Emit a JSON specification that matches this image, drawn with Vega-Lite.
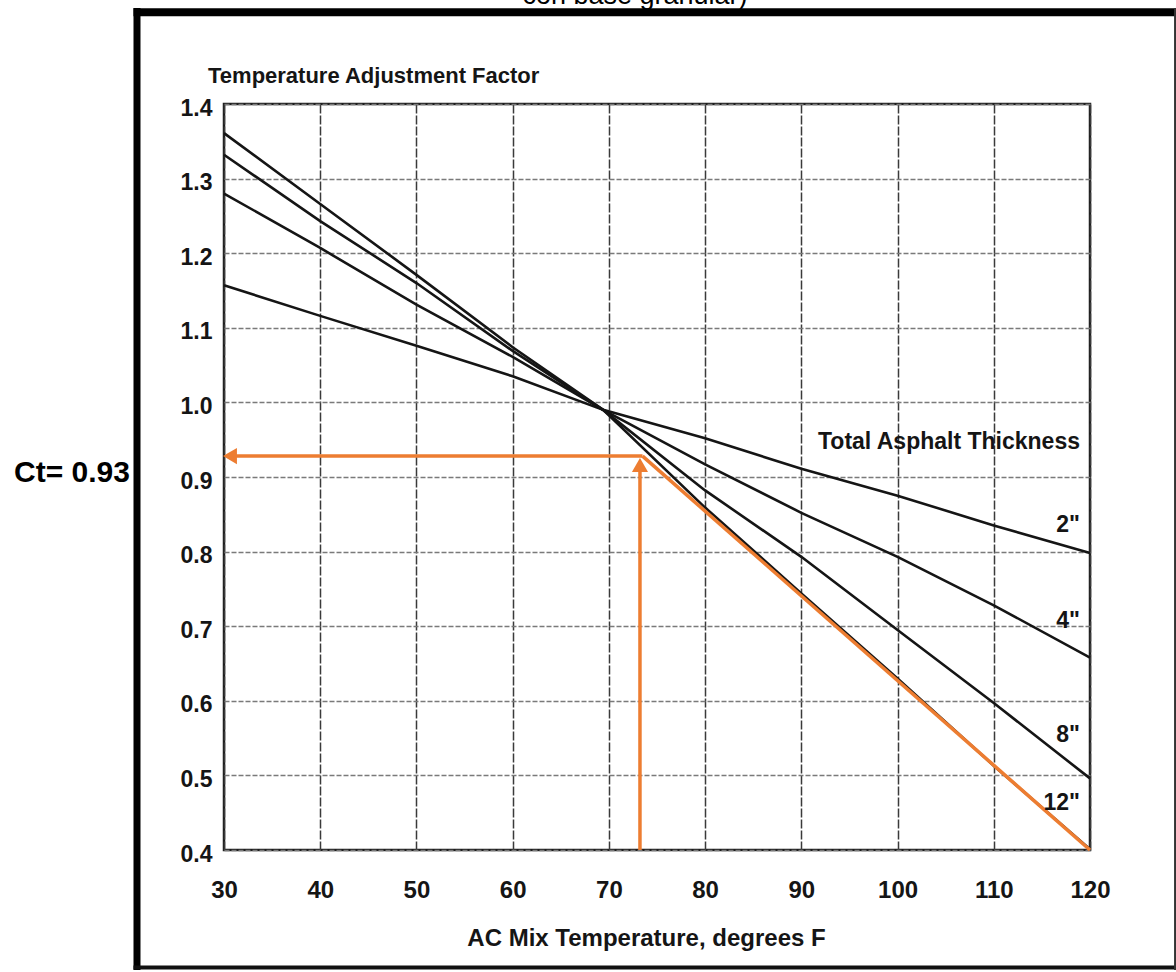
{
  "$schema": "https://vega.github.io/schema/vega-lite/v6.json",
  "width": 866,
  "height": 746,
  "autosize": {"type": "none"},
  "padding": {"left": 224, "top": 104, "right": 86, "bottom": 122},
  "background": "white",
  "config": {
    "view": {"stroke": "#1e1e1e", "strokeWidth": 2.5},
    "font": "Liberation Sans"
  },
  "datasets": {
    "curves": [
      {"thickness": "2in", "temp": 30, "factor": 1.157},
      {"thickness": "2in", "temp": 40, "factor": 1.116},
      {"thickness": "2in", "temp": 50, "factor": 1.076},
      {"thickness": "2in", "temp": 60, "factor": 1.035},
      {"thickness": "2in", "temp": 69.4, "factor": 0.99},
      {"thickness": "2in", "temp": 80, "factor": 0.952},
      {"thickness": "2in", "temp": 90, "factor": 0.911},
      {"thickness": "2in", "temp": 100, "factor": 0.875},
      {"thickness": "2in", "temp": 110, "factor": 0.835},
      {"thickness": "2in", "temp": 120, "factor": 0.798},
      {"thickness": "4in", "temp": 30, "factor": 1.28},
      {"thickness": "4in", "temp": 40, "factor": 1.207},
      {"thickness": "4in", "temp": 50, "factor": 1.131},
      {"thickness": "4in", "temp": 60, "factor": 1.061},
      {"thickness": "4in", "temp": 69.4, "factor": 0.99},
      {"thickness": "4in", "temp": 80, "factor": 0.917},
      {"thickness": "4in", "temp": 90, "factor": 0.852},
      {"thickness": "4in", "temp": 100, "factor": 0.793},
      {"thickness": "4in", "temp": 110, "factor": 0.728},
      {"thickness": "4in", "temp": 120, "factor": 0.658},
      {"thickness": "8in", "temp": 30, "factor": 1.332},
      {"thickness": "8in", "temp": 40, "factor": 1.243},
      {"thickness": "8in", "temp": 50, "factor": 1.16},
      {"thickness": "8in", "temp": 60, "factor": 1.069},
      {"thickness": "8in", "temp": 69.4, "factor": 0.99},
      {"thickness": "8in", "temp": 80, "factor": 0.882},
      {"thickness": "8in", "temp": 90, "factor": 0.793},
      {"thickness": "8in", "temp": 100, "factor": 0.695},
      {"thickness": "8in", "temp": 110, "factor": 0.597},
      {"thickness": "8in", "temp": 120, "factor": 0.496},
      {"thickness": "12in", "temp": 30, "factor": 1.361},
      {"thickness": "12in", "temp": 40, "factor": 1.266},
      {"thickness": "12in", "temp": 50, "factor": 1.171},
      {"thickness": "12in", "temp": 60, "factor": 1.074},
      {"thickness": "12in", "temp": 69.4, "factor": 0.99},
      {"thickness": "12in", "temp": 80, "factor": 0.859},
      {"thickness": "12in", "temp": 90, "factor": 0.744},
      {"thickness": "12in", "temp": 100, "factor": 0.63},
      {"thickness": "12in", "temp": 110, "factor": 0.513},
      {"thickness": "12in", "temp": 120, "factor": 0.401}
    ],
    "curveLabels": [
      {"label": "Total Asphalt Thickness", "temp": 118.96, "factor": 0.9375},
      {"label": "2\"", "temp": 118.96, "factor": 0.8263},
      {"label": "4\"", "temp": 118.96, "factor": 0.6976},
      {"label": "8\"", "temp": 118.96, "factor": 0.5448},
      {"label": "12\"", "temp": 118.96, "factor": 0.4536}
    ],
    "readingLine": [
      {"temp": 73.5, "factor": 0.928},
      {"temp": 120, "factor": 0.4}
    ]
  },
  "layer": [
    {
      "data": {"values": [{"x": 20.958, "y": 1.5287, "y2": 0.2391}]},
      "mark": {"type": "rule", "color": "#000000", "strokeWidth": 7},
      "encoding": {
        "x": {"field": "x", "type": "quantitative"},
        "y": {"field": "y", "type": "quantitative"},
        "y2": {"field": "y2"}
      }
    },
    {
      "data": {"values": [{"x": 20.594, "x2": 129.2, "y": 1.5231}]},
      "mark": {"type": "rule", "color": "#000000", "strokeWidth": 8},
      "encoding": {
        "x": {"field": "x", "type": "quantitative"},
        "x2": {"field": "x2"},
        "y": {"field": "y", "type": "quantitative"}
      }
    },
    {
      "data": {"values": [{"x": 20.594, "x2": 129.2, "y": 0.2425}]},
      "mark": {"type": "rule", "color": "#111111", "strokeWidth": 4},
      "encoding": {
        "x": {"field": "x", "type": "quantitative"},
        "x2": {"field": "x2"},
        "y": {"field": "y", "type": "quantitative"}
      }
    },
    {
      "data": {"values": [{"x": 128.84, "y": 1.5287, "y2": 0.2391}]},
      "mark": {"type": "rule", "color": "#333333", "strokeWidth": 2},
      "encoding": {
        "x": {"field": "x", "type": "quantitative"},
        "y": {"field": "y", "type": "quantitative"},
        "y2": {"field": "y2"}
      }
    },
    {
      "data": {"name": "curves"},
      "mark": {"type": "line", "color": "#151515", "strokeWidth": 2.6},
      "encoding": {
        "x": {
          "field": "temp",
          "type": "quantitative",
          "scale": {"domain": [30, 120], "nice": false, "zero": false},
          "axis": {
            "values": [30, 40, 50, 60, 70, 80, 90, 100, 110, 120],
            "domain": false,
            "ticks": false,
            "tickSize": 0,
            "labelFlush": false,
            "labelOverlap": false,
            "labelFont": "Liberation Sans",
            "labelFontWeight": "bold",
            "labelFontSize": 24,
            "labelColor": "#151515",
            "labelBaseline": "alphabetic",
            "labelPadding": 47,
            "grid": true,
            "gridColor": "#3a3a3a",
            "gridWidth": 1.5,
            "gridDash": [9, 2],
            "title": "AC Mix Temperature, degrees F",
            "titleFont": "Liberation Sans",
            "titleFontWeight": "bold",
            "titleFontSize": 24,
            "titleColor": "#151515",
            "titleBaseline": "alphabetic",
            "titleAlign": "center",
            "titleX": 422,
            "titleY": 95
          }
        },
        "y": {
          "field": "factor",
          "type": "quantitative",
          "scale": {"domain": [0.4, 1.4], "nice": false, "zero": false},
          "axis": {
            "values": [0.4, 0.5, 0.6, 0.7, 0.8, 0.9, 1.0, 1.1, 1.2, 1.3, 1.4],
            "format": ".1f",
            "domain": false,
            "ticks": false,
            "tickSize": 0,
            "labelFlush": false,
            "labelOverlap": false,
            "labelFont": "Liberation Sans",
            "labelFontWeight": "bold",
            "labelFontSize": 23,
            "labelColor": "#151515",
            "labelPadding": 12,
            "labelOffset": 4,
            "grid": true,
            "gridColor": "#7a7a7a",
            "gridWidth": 1.4,
            "gridDash": [5, 2],
            "title": null
          }
        },
        "detail": {"field": "thickness", "type": "nominal"}
      }
    },
    {
      "data": {"name": "readingLine"},
      "mark": {"type": "line", "color": "#ED7D31", "strokeWidth": 3.5},
      "encoding": {
        "x": {"field": "temp", "type": "quantitative"},
        "y": {"field": "factor", "type": "quantitative"}
      }
    },
    {
      "data": {"values": [{"x": 30.9, "x2": 73.5, "y": 0.928}]},
      "mark": {"type": "rule", "color": "#ED7D31", "strokeWidth": 3.5},
      "encoding": {
        "x": {"field": "x", "type": "quantitative"},
        "x2": {"field": "x2"},
        "y": {"field": "y", "type": "quantitative"}
      }
    },
    {
      "data": {"values": [{"x": 73.23, "y": 0.4, "y2": 0.912}]},
      "mark": {"type": "rule", "color": "#ED7D31", "strokeWidth": 3.5},
      "encoding": {
        "x": {"field": "x", "type": "quantitative"},
        "y": {"field": "y", "type": "quantitative"},
        "y2": {"field": "y2"}
      }
    },
    {
      "data": {"values": [{"x": 30.62, "y": 0.928, "dir": "triangle-left"}, {"x": 73.23, "y": 0.9161, "dir": "triangle-up"}]},
      "mark": {"type": "point", "filled": true, "color": "#ED7D31", "opacity": 1, "size": 260},
      "encoding": {
        "x": {"field": "x", "type": "quantitative"},
        "y": {"field": "y", "type": "quantitative"},
        "shape": {"field": "dir", "type": "nominal", "scale": null}
      }
    },
    {
      "data": {"name": "curveLabels"},
      "mark": {"type": "text", "align": "right", "baseline": "alphabetic", "font": "Liberation Sans", "fontWeight": "bold", "fontSize": 23, "color": "#151515"},
      "encoding": {
        "x": {"field": "temp", "type": "quantitative"},
        "y": {"field": "factor", "type": "quantitative"},
        "text": {"field": "label"}
      }
    },
    {
      "data": {"values": [{"label": "Temperature Adjustment Factor", "x": 28.34, "y": 1.4282}]},
      "mark": {"type": "text", "align": "left", "baseline": "alphabetic", "font": "Liberation Sans", "fontWeight": "bold", "fontSize": 22, "color": "#151515"},
      "encoding": {
        "x": {"field": "x", "type": "quantitative"},
        "y": {"field": "y", "type": "quantitative"},
        "text": {"field": "label"}
      }
    },
    {
      "data": {"values": [{"label": "Ct= 0.93", "x": 20.23, "y": 0.8933}]},
      "mark": {"type": "text", "align": "right", "baseline": "alphabetic", "font": "Liberation Sans", "fontWeight": "bold", "fontSize": 30, "color": "#000000"},
      "encoding": {
        "x": {"field": "x", "type": "quantitative"},
        "y": {"field": "y", "type": "quantitative"},
        "text": {"field": "label"}
      }
    },
    {
      "data": {"values": [{"label": "con base granular)", "x": 72.71, "y": 1.5347}]},
      "mark": {"type": "text", "align": "center", "baseline": "alphabetic", "font": "Liberation Sans", "fontSize": 27, "color": "#000000"},
      "encoding": {
        "x": {"field": "x", "type": "quantitative"},
        "y": {"field": "y", "type": "quantitative"},
        "text": {"field": "label"}
      }
    }
  ]
}
